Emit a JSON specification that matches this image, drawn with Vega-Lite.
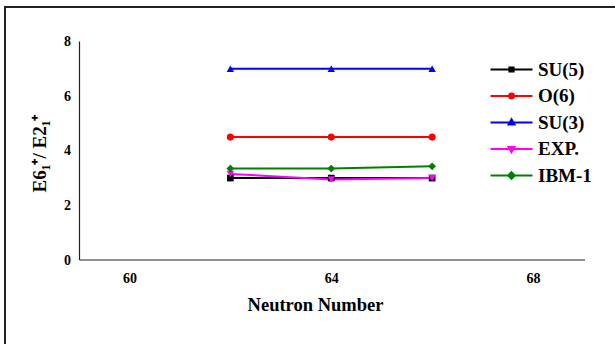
{
  "$schema": "https://vega.github.io/schema/vega-lite/v6.json",
  "autosize": "none",
  "padding": {"left": 5, "top": 7, "right": 0, "bottom": 0},
  "width": 612,
  "height": 340,
  "background": "white",
  "config": {
    "view": {"stroke": "#222", "strokeWidth": 2},
    "font": "Liberation Serif",
    "legend": {"title": null, "orient": "none", "legendX": 497, "legendY": 53, "padding": 0,
      "symbolSize": 196, "symbolStrokeWidth": 2, "labelOffset": 17, "rowPadding": 6.5,
      "labelFont": "Liberation Serif", "labelFontWeight": "bold", "labelFontSize": 19, "labelColor": "#000"}
  },
  "data": {"values": [
    {"series": "SU(5)", "N": 62, "ratio": 3.0},
    {"series": "SU(5)", "N": 64, "ratio": 3.0},
    {"series": "SU(5)", "N": 66, "ratio": 3.0},
    {"series": "O(6)", "N": 62, "ratio": 4.5},
    {"series": "O(6)", "N": 64, "ratio": 4.5},
    {"series": "O(6)", "N": 66, "ratio": 4.5},
    {"series": "SU(3)", "N": 62, "ratio": 7.0},
    {"series": "SU(3)", "N": 64, "ratio": 7.0},
    {"series": "SU(3)", "N": 66, "ratio": 7.0},
    {"series": "EXP.", "N": 62, "ratio": 3.15},
    {"series": "EXP.", "N": 64, "ratio": 2.95},
    {"series": "EXP.", "N": 66, "ratio": 3.0},
    {"series": "IBM-1", "N": 62, "ratio": 3.35},
    {"series": "IBM-1", "N": 64, "ratio": 3.35},
    {"series": "IBM-1", "N": 66, "ratio": 3.43}
  ]},
  "layer": [
    {
      "transform": [{"filter": "false"}],
      "mark": {"type": "point", "opacity": 1, "size": 196, "strokeWidth": 2},
      "encoding": {
        "x": {"field": "N", "type": "quantitative", "scale": {"domain": [57.532, 69.665], "nice": false, "zero": false}},
        "y": {"field": "ratio", "type": "quantitative", "scale": {"domain": [-3.185, 9.263], "nice": false, "zero": false}},
        "fill": {"field": "series", "type": "nominal",
          "scale": {"domain": ["SU(5)", "O(6)", "SU(3)", "EXP.", "IBM-1"], "range": ["#000000", "#ff0000", "#0000ff", "#ff00ff", "#008000"]}},
        "stroke": {"field": "series", "type": "nominal",
          "scale": {"domain": ["SU(5)", "O(6)", "SU(3)", "EXP.", "IBM-1"], "range": ["#000000", "#ff0000", "#0000ff", "#ff00ff", "#008000"]}},
        "shape": {"field": "series", "type": "nominal",
          "scale": {"domain": ["SU(5)", "O(6)", "SU(3)", "EXP.", "IBM-1"],
            "range": [
              "M-3,0H3M-0.3,-0.3H0.3V0.3H-0.3Z",
              "M-3,0H3M-0.35,0A0.35,0.35,0,1,0,0.35,0A0.35,0.35,0,1,0,-0.35,0Z",
              "M-3,0H3M0,-0.45L0.42,0.3H-0.42Z",
              "M-3,0H3M0,0.45L0.42,-0.3H-0.42Z",
              "M-3,0H3M0,-0.48L0.48,0L0,0.48L-0.48,0Z"
            ]}}
      }
    },
    {
      "data": {"values": [
        {"x": 59.009, "x2": 59.009, "y": 0, "y2": 8},
        {"x": 59.009, "x2": 69.03, "y": 0, "y2": 0}
      ]},
      "mark": {"type": "rule", "color": "#222", "strokeWidth": 1.2},
      "encoding": {
        "x": {"field": "x", "type": "quantitative", "scale": {"domain": [57.532, 69.665], "nice": false, "zero": false},
          "axis": {"values": [60, 64, 68], "offset": -87, "domain": false, "ticks": false, "tickSize": 0, "grid": false,
            "labelFont": "Liberation Serif", "labelFontWeight": "bold", "labelFontSize": 14, "labelColor": "#000", "labelPadding": 11,
            "title": "Neutron Number", "titleFont": "Liberation Serif", "titleFontWeight": "bold", "titleFontSize": 18.5, "titleColor": "#000",
            "titleX": 310, "titleY": 35, "titleBaseline": "top", "titleAnchor": "middle"}},
        "x2": {"field": "x2"},
        "y": {"field": "y", "type": "quantitative", "scale": {"domain": [-3.185, 9.263], "nice": false, "zero": false},
          "axis": {"values": [0, 2, 4, 6, 8], "offset": -74.5, "domain": false, "ticks": false, "tickSize": 0, "grid": false,
            "labelFont": "Liberation Serif", "labelFontWeight": "bold", "labelFontSize": 14, "labelColor": "#000", "labelPadding": 9,
            "title": "E6₁⁺/ E2₁⁺", "titleFont": "Liberation Serif", "titleFontWeight": "bold", "titleFontSize": 19, "titleColor": "#000",
            "titlePadding": 14, "titleY": 146}},
        "y2": {"field": "y2"}
      }
    },
    {
      "mark": {"type": "line", "strokeWidth": 2},
      "encoding": {
        "x": {"field": "N", "type": "quantitative"},
        "y": {"field": "ratio", "type": "quantitative"},
        "stroke": {"field": "series", "type": "nominal"}
      }
    },
    {
      "transform": [{"filter": "datum.series === 'SU(5)'"}],
      "mark": {"type": "point", "filled": true, "opacity": 1, "size": 45, "shape": "square"},
      "encoding": {
        "x": {"field": "N", "type": "quantitative"},
        "y": {"field": "ratio", "type": "quantitative"},
        "fill": {"field": "series", "type": "nominal"}
      }
    },
    {
      "transform": [{"filter": "datum.series === 'O(6)'"}],
      "mark": {"type": "point", "filled": true, "opacity": 1, "size": 50, "shape": "circle"},
      "encoding": {
        "x": {"field": "N", "type": "quantitative"},
        "y": {"field": "ratio", "type": "quantitative"},
        "fill": {"field": "series", "type": "nominal"}
      }
    },
    {
      "transform": [{"filter": "datum.series === 'SU(3)'"}],
      "mark": {"type": "point", "filled": true, "opacity": 1, "size": 55, "shape": "triangle-up"},
      "encoding": {
        "x": {"field": "N", "type": "quantitative"},
        "y": {"field": "ratio", "type": "quantitative"},
        "fill": {"field": "series", "type": "nominal"}
      }
    },
    {
      "transform": [{"filter": "datum.series === 'EXP.'"}],
      "mark": {"type": "point", "filled": true, "opacity": 1, "size": 55, "shape": "triangle-down"},
      "encoding": {
        "x": {"field": "N", "type": "quantitative"},
        "y": {"field": "ratio", "type": "quantitative"},
        "fill": {"field": "series", "type": "nominal"}
      }
    },
    {
      "transform": [{"filter": "datum.series === 'IBM-1'"}],
      "mark": {"type": "point", "filled": true, "opacity": 1, "size": 60, "shape": "diamond"},
      "encoding": {
        "x": {"field": "N", "type": "quantitative"},
        "y": {"field": "ratio", "type": "quantitative"},
        "fill": {"field": "series", "type": "nominal"}
      }
    }
  ]
}
